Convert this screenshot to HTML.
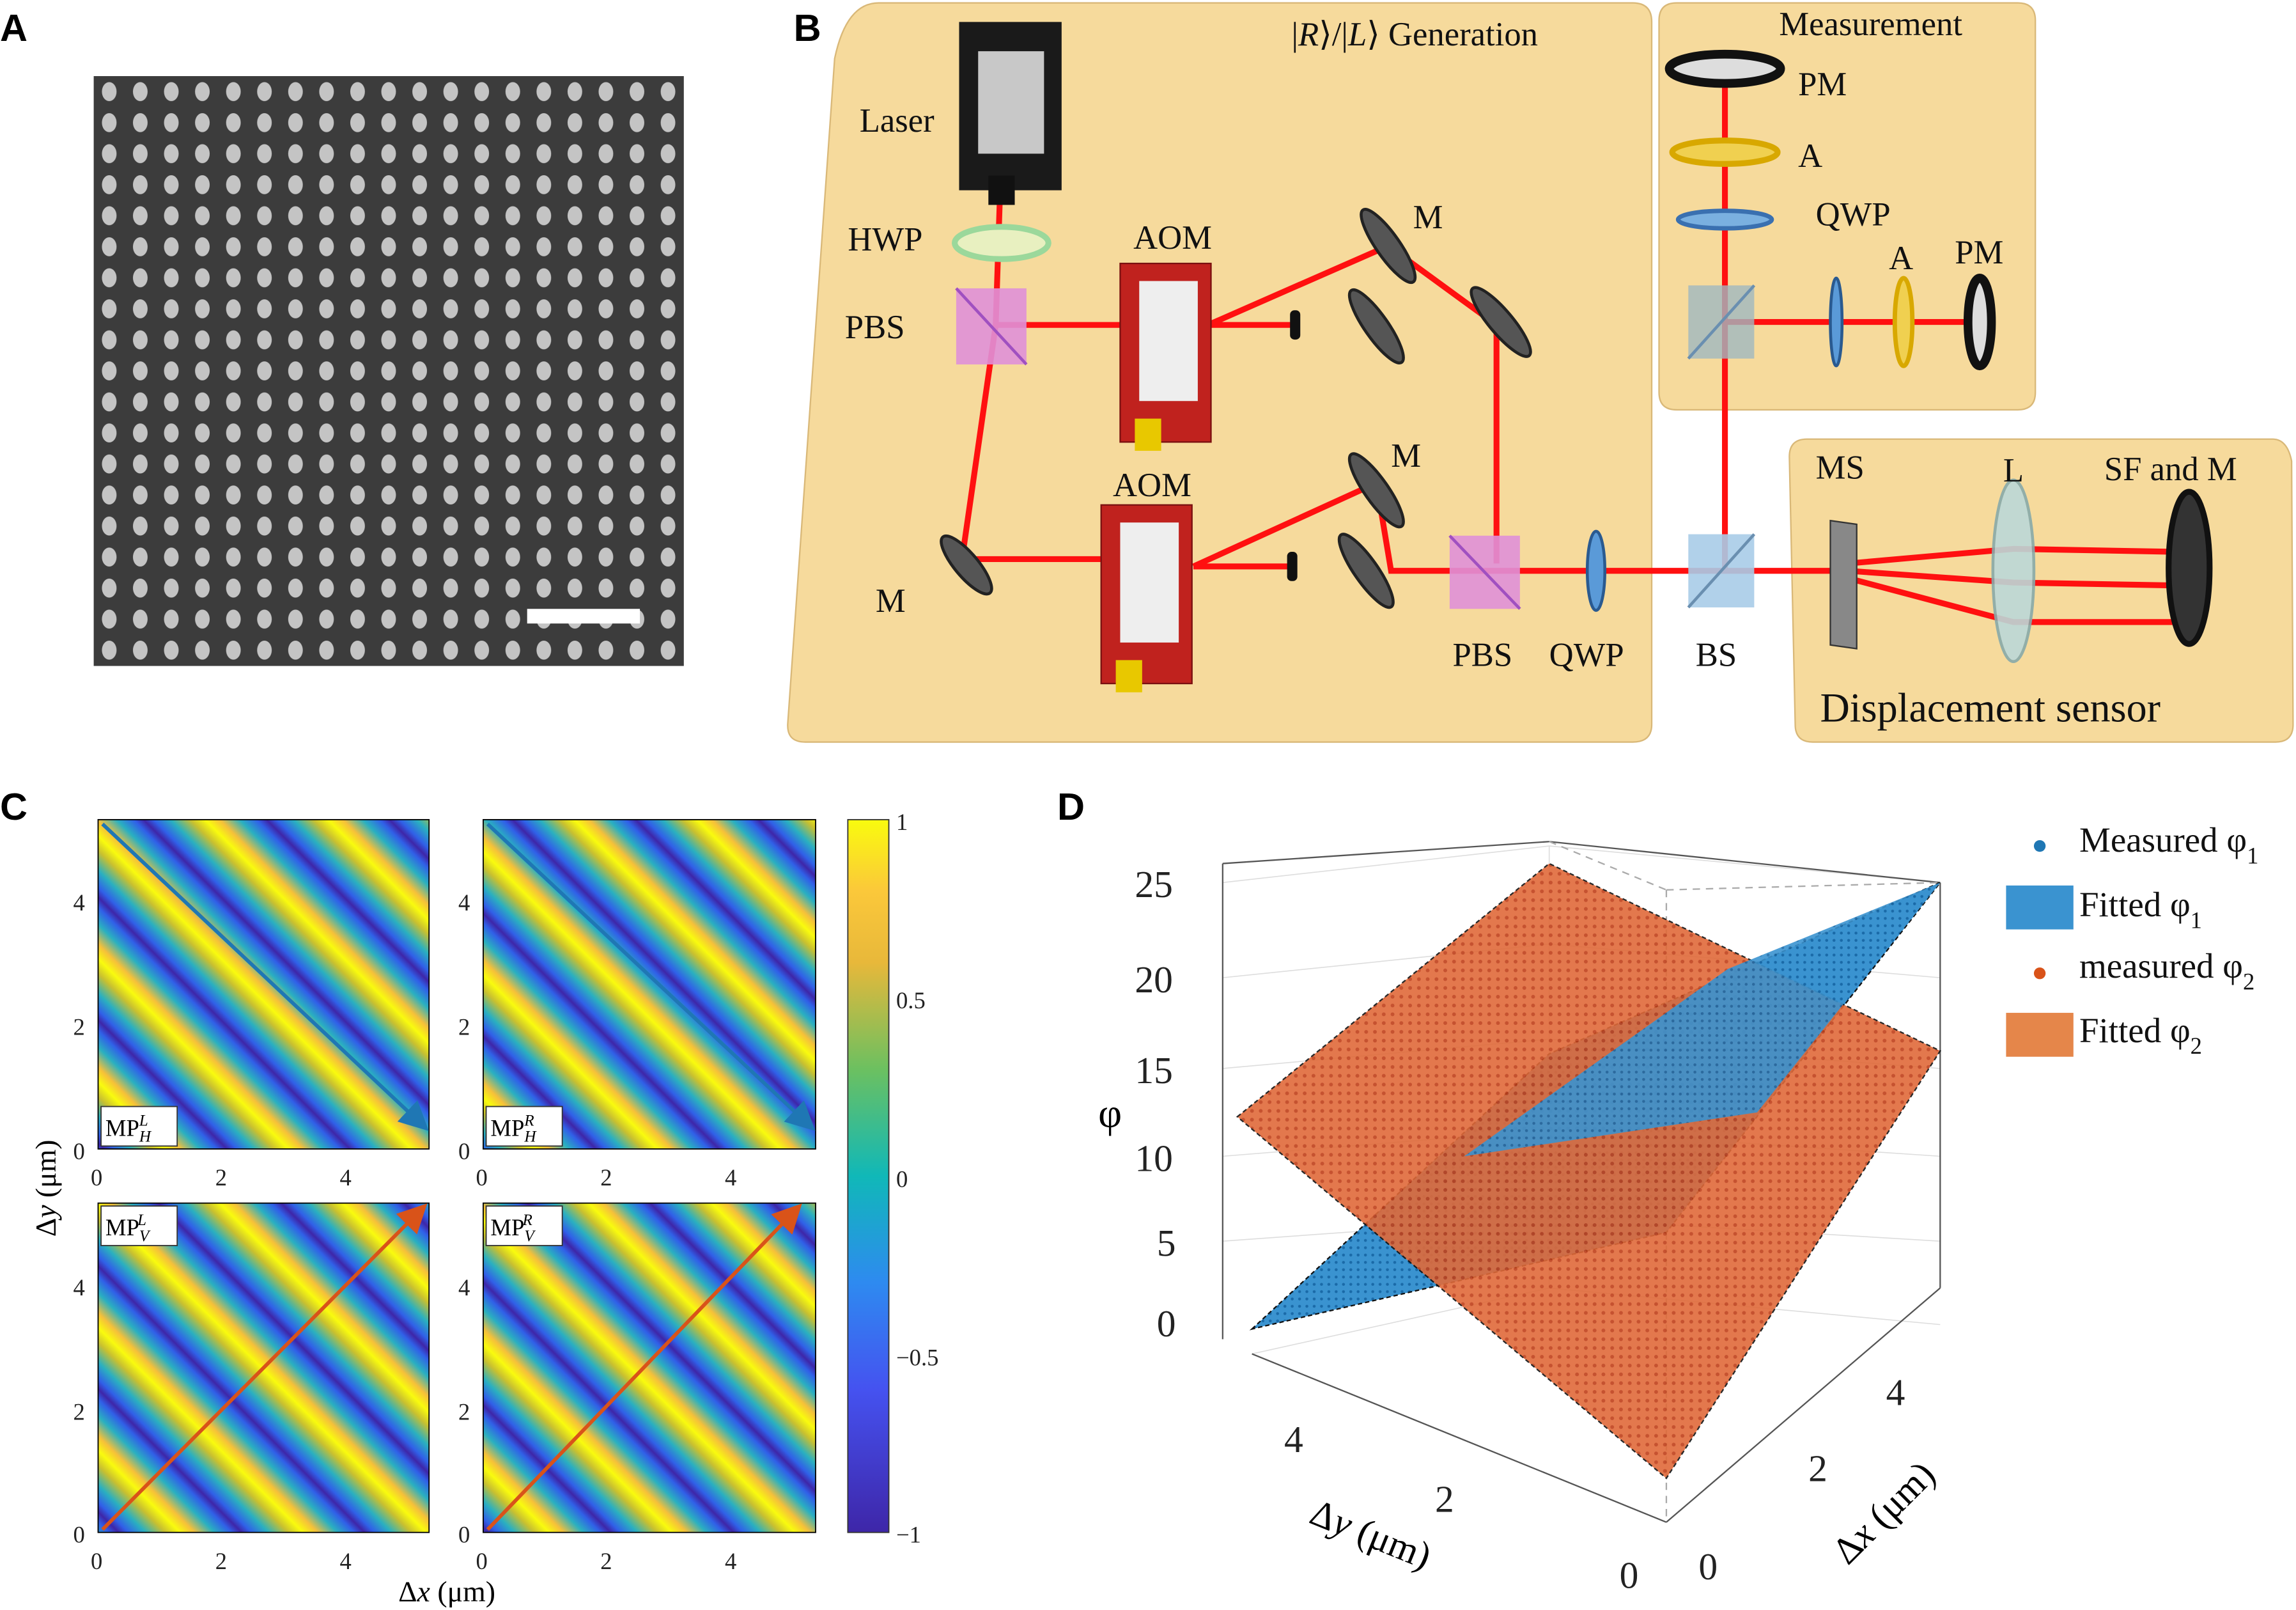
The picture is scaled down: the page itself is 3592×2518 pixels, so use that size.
<!DOCTYPE html>
<html><head><meta charset="utf-8"><style>
html,body{margin:0;padding:0;background:#fff;}
svg{display:block;}
text{font-family:"Liberation Serif",serif;}
.s{font-family:"Liberation Sans",sans-serif;}
</style></head><body>
<svg width="3592" height="2518" viewBox="0 0 1568 1100" preserveAspectRatio="none" xmlns="http://www.w3.org/2000/svg">
<defs>
<pattern id="dots" x="64" y="52" width="21.2" height="21.2" patternUnits="userSpaceOnUse">
<ellipse cx="10.6" cy="10.6" rx="5" ry="6.5" fill="#c4c4c4"/>
</pattern>
<linearGradient id="parTop" gradientUnits="userSpaceOnUse" x1="0" y1="0" x2="42" y2="-42" spreadMethod="repeat">
<stop offset="0" stop-color="#f9fb0e"/><stop offset="0.12" stop-color="#f5c03a"/><stop offset="0.28" stop-color="#2ab0c0"/><stop offset="0.42" stop-color="#3060e8"/><stop offset="0.5" stop-color="#3e26a8"/><stop offset="0.58" stop-color="#3060e8"/><stop offset="0.72" stop-color="#2ab0c0"/><stop offset="0.88" stop-color="#c8c030"/><stop offset="1" stop-color="#f9fb0e"/>
</linearGradient>
<linearGradient id="cbar" x1="0" y1="1" x2="0" y2="0">
<stop offset="0" stop-color="#3e26a8"/><stop offset="0.2" stop-color="#4552f0"/><stop offset="0.35" stop-color="#2e8af0"/><stop offset="0.5" stop-color="#10b8b8"/><stop offset="0.65" stop-color="#6cc060"/><stop offset="0.8" stop-color="#e8b83a"/><stop offset="0.9" stop-color="#fbc83a"/><stop offset="1" stop-color="#f9fb0e"/>
</linearGradient>
<pattern id="odots" width="6" height="6" patternUnits="userSpaceOnUse"><rect width="6" height="6" fill="#e06a3a"/><circle cx="3" cy="3" r="1.3" fill="#c0401a"/></pattern>
<pattern id="bdots" width="5" height="5" patternUnits="userSpaceOnUse"><rect width="5" height="5" fill="#3a93d0"/><circle cx="2.5" cy="2.5" r="1" fill="#1a6aa8"/></pattern>
<marker id="ab" markerWidth="8" markerHeight="8" refX="7" refY="4" orient="auto"><path d="M0,0 L8,4 L0,8 z" fill="#1f77b4"/></marker>
<marker id="ao" markerWidth="8" markerHeight="8" refX="7" refY="4" orient="auto"><path d="M0,0 L8,4 L0,8 z" fill="#d95319"/></marker>
</defs>

<!-- Panel A -->
<text x="0" y="28" class="s" font-size="26" font-weight="bold">A</text>
<rect x="64" y="52" width="403" height="403" fill="#3c3c3c"/>
<rect x="64" y="52" width="403" height="403" fill="url(#dots)"/>
<rect x="360" y="416" width="77" height="10" fill="#fff"/>

<!-- Panel B -->
<text x="542" y="28" class="s" font-size="26" font-weight="bold">B</text>
<path d="M600,2 L1115,2 Q1128,2 1128,15 L1128,495 Q1128,507 1115,507 L550,507 Q537,507 538,494 L570,40 Q578,2 600,2 Z" fill="#f6da9c" stroke="#d9b878" stroke-width="1"/>
<path d="M1145,2 L1378,2 Q1390,2 1390,14 L1390,268 Q1390,280 1378,280 L1145,280 Q1133,280 1133,268 L1133,14 Q1133,2 1145,2 Z" fill="#f6da9c" stroke="#d9b878"/>
<path d="M1234,300 L1552,300 Q1562,300 1565,315 L1566,495 Q1566,507 1554,507 L1238,507 Q1226,507 1226,495 L1222,312 Q1222,300 1234,300 Z" fill="#f6da9c" stroke="#d9b878"/>

<g stroke="#ff1010" stroke-width="4" fill="none">
<path d="M683,130 L680,222 L657,382 L785,382"/>
<path d="M680,222 L775,222"/>
<path d="M825,222 L885,222"/>
<path d="M825,222 L948,168 L1022,222 L1022,385"/>
<path d="M815,387 L883,387"/>
<path d="M815,387 L940,330 L950,390 L1255,390"/>
<path d="M1178,390 L1178,50"/>
<path d="M1178,220 L1352,220"/>
<path d="M1262,385 L1375,375 L1485,377"/>
<path d="M1262,390 L1375,398 L1485,400"/>
<path d="M1262,395 L1375,425 L1485,425"/>
</g>
<rect x="655" y="15" width="70" height="115" fill="#1a1a1a"/>
<rect x="668" y="35" width="45" height="70" fill="#c8c8c8"/>
<rect x="675" y="120" width="18" height="20" fill="#111"/>
<ellipse cx="684" cy="166" rx="32" ry="11" fill="#e8f0c0" stroke="#9bd89b" stroke-width="4"/>
<rect x="653" y="197" width="48" height="52" fill="#e090d8" opacity="0.9"/>
<line x1="653" y1="197" x2="701" y2="249" stroke="#a050c0" stroke-width="2"/>
<rect x="990" y="366" width="48" height="50" fill="#e090d8" opacity="0.9"/>
<line x1="990" y1="366" x2="1038" y2="416" stroke="#a050c0" stroke-width="2"/>
<rect x="765" y="180" width="62" height="122" fill="#c0221e" stroke="#7a1010"/>
<rect x="778" y="192" width="40" height="82" fill="#eeeeee"/>
<rect x="775" y="286" width="18" height="22" fill="#e8c800"/>
<rect x="752" y="345" width="62" height="122" fill="#c0221e" stroke="#7a1010"/>
<rect x="765" y="357" width="40" height="82" fill="#eeeeee"/>
<rect x="762" y="451" width="18" height="22" fill="#e8c800"/>
<rect x="881" y="212" width="7" height="20" rx="3" fill="#111"/>
<rect x="879" y="377" width="7" height="20" rx="3" fill="#111"/>
<g fill="#555" stroke="#222" stroke-width="2">
<ellipse cx="660" cy="386" rx="8" ry="25" transform="rotate(-40 660 386)"/>
<ellipse cx="948" cy="168" rx="8" ry="30" transform="rotate(-35 948 168)"/>
<ellipse cx="940" cy="223" rx="8" ry="30" transform="rotate(-35 940 223)"/>
<ellipse cx="1025" cy="220" rx="8" ry="30" transform="rotate(-40 1025 220)"/>
<ellipse cx="940" cy="335" rx="8" ry="30" transform="rotate(-35 940 335)"/>
<ellipse cx="933" cy="390" rx="8" ry="30" transform="rotate(-35 933 390)"/>
</g>
<ellipse cx="1090" cy="390" rx="6" ry="27" fill="#5a9ad8" stroke="#2a5a90" stroke-width="2"/>
<rect x="1153" y="365" width="45" height="50" fill="#a8cce8" opacity="0.9"/>
<line x1="1153" y1="415" x2="1198" y2="365" stroke="#6a8fb0" stroke-width="2"/>
<rect x="1153" y="195" width="45" height="50" fill="#a0b8c0" opacity="0.8"/>
<line x1="1153" y1="245" x2="1198" y2="195" stroke="#6a8fb0" stroke-width="2"/>
<ellipse cx="1178" cy="47" rx="38" ry="10" fill="#ddd" stroke="#111" stroke-width="6"/>
<ellipse cx="1178" cy="104" rx="36" ry="8" fill="#f0d050" stroke="#d8a800" stroke-width="4"/>
<ellipse cx="1178" cy="150" rx="32" ry="6" fill="#7ab0e0" stroke="#3a70b0" stroke-width="3"/>
<ellipse cx="1254" cy="220" rx="4" ry="30" fill="#5a9ad8" stroke="#2a5a90" stroke-width="2"/>
<ellipse cx="1300" cy="220" rx="6" ry="30" fill="#f0d050" stroke="#d8a800" stroke-width="3"/>
<ellipse cx="1352" cy="220" rx="8" ry="30" fill="#ddd" stroke="#111" stroke-width="6"/>
<rect x="1250" y="355" width="18" height="85" fill="#888" stroke="#333" transform="skewY(8) translate(0,-175)"/>
<ellipse cx="1375" cy="390" rx="14" ry="62" fill="#bcd8d8" stroke="#8aa" stroke-width="2" opacity="0.9"/>
<ellipse cx="1495" cy="388" rx="14" ry="52" fill="#333" stroke="#111" stroke-width="4"/>
<g font-size="23" fill="#111">
<text x="587" y="90">Laser</text>
<text x="579" y="171">HWP</text>
<text x="577" y="231">PBS</text>
<text x="774" y="170">AOM</text>
<text x="760" y="339">AOM</text>
<text x="965" y="156">M</text>
<text x="950" y="319">M</text>
<text x="598" y="418">M</text>
<text x="992" y="455">PBS</text>
<text x="1058" y="455">QWP</text>
<text x="1158" y="455">BS</text>
<text x="882" y="31">|<tspan font-style="italic">R</tspan>⟩/|<tspan font-style="italic">L</tspan>⟩ Generation</text>
<text x="1215" y="24">Measurement</text>
<text x="1228" y="65">PM</text>
<text x="1228" y="114">A</text>
<text x="1240" y="154">QWP</text>
<text x="1290" y="184">A</text>
<text x="1335" y="180">PM</text>
<text x="1240" y="327">MS</text>
<text x="1368" y="329">L</text>
<text x="1437" y="328">SF and M</text>
<text x="1243" y="493" font-size="28">Displacement sensor</text>
</g>

<!-- Panel C -->
<text x="0" y="560" class="s" font-size="26" font-weight="bold">C</text>
<g>
<rect x="67" y="560" width="226" height="225" fill="url(#parTop)"/>
<rect x="330" y="560" width="227" height="225" fill="url(#parTop)"/>
<rect x="67" y="822" width="226" height="225" fill="url(#parTop)"/>
<rect x="330" y="822" width="227" height="225" fill="url(#parTop)"/>
<g fill="none" stroke="#000" stroke-width="0.8">
<rect x="67" y="560" width="226" height="225"/><rect x="330" y="560" width="227" height="225"/>
<rect x="67" y="822" width="226" height="225"/><rect x="330" y="822" width="227" height="225"/>
</g>
<line x1="70" y1="563" x2="291" y2="771" stroke="#1f77b4" stroke-width="2.5" marker-end="url(#ab)"/>
<line x1="333" y1="563" x2="555" y2="771" stroke="#1f77b4" stroke-width="2.5" marker-end="url(#ab)"/>
<line x1="70" y1="1045" x2="290" y2="824" stroke="#d95319" stroke-width="2.5" marker-end="url(#ao)"/>
<line x1="333" y1="1045" x2="546" y2="824" stroke="#d95319" stroke-width="2.5" marker-end="url(#ao)"/>
<g font-size="16">
<rect x="69" y="756" width="52" height="27" fill="#fff" stroke="#333" stroke-width="0.8"/><text x="72" y="776">MP<tspan font-style="italic" font-size="11" dy="4">H</tspan><tspan font-style="italic" font-size="11" dx="-8" dy="-11">L</tspan></text>
<rect x="332" y="756" width="52" height="27" fill="#fff" stroke="#333" stroke-width="0.8"/><text x="335" y="776">MP<tspan font-style="italic" font-size="11" dy="4">H</tspan><tspan font-style="italic" font-size="11" dx="-8" dy="-11">R</tspan></text>
<rect x="69" y="824" width="52" height="27" fill="#fff" stroke="#333" stroke-width="0.8"/><text x="72" y="844">MP<tspan font-style="italic" font-size="11" dy="4">V</tspan><tspan font-style="italic" font-size="11" dx="-8" dy="-11">L</tspan></text>
<rect x="332" y="824" width="52" height="27" fill="#fff" stroke="#333" stroke-width="0.8"/><text x="335" y="844">MP<tspan font-style="italic" font-size="11" dy="4">V</tspan><tspan font-style="italic" font-size="11" dx="-8" dy="-11">R</tspan></text>
</g>
<g font-size="16" fill="#222" font-family="Liberation Sans,sans-serif">
<text x="50" y="622">4</text><text x="50" y="707">2</text><text x="50" y="792">0</text>
<text x="313" y="622">4</text><text x="313" y="707">2</text><text x="313" y="792">0</text>
<text x="50" y="885">4</text><text x="50" y="970">2</text><text x="50" y="1054">0</text>
<text x="313" y="885">4</text><text x="313" y="970">2</text><text x="313" y="1054">0</text>
<text x="62" y="810">0</text><text x="147" y="810">2</text><text x="232" y="810">4</text>
<text x="325" y="810">0</text><text x="410" y="810">2</text><text x="495" y="810">4</text>
<text x="62" y="1072">0</text><text x="147" y="1072">2</text><text x="232" y="1072">4</text>
<text x="325" y="1072">0</text><text x="410" y="1072">2</text><text x="495" y="1072">4</text>
<text x="612" y="567">1</text><text x="612" y="689">0.5</text><text x="612" y="811">0</text><text x="612" y="933">−0.5</text><text x="612" y="1054">−1</text>
</g>
<rect x="579" y="560" width="28" height="487" fill="url(#cbar)" stroke="#333" stroke-width="0.8"/>
<text x="272" y="1094" font-size="20">Δ<tspan font-style="italic">x</tspan> (μm)</text>
<text transform="translate(38,845) rotate(-90)" font-size="20">Δ<tspan font-style="italic">y</tspan> (μm)</text>
</g>

<!-- Panel D -->
<text x="722" y="560" class="s" font-size="26" font-weight="bold">D</text>
<g stroke="#ddd" stroke-width="0.7" fill="none">
<path d="M835,603 L1058,578 L1325,603"/>
<path d="M835,668 L1058,645 L1325,668"/><path d="M835,730 L1058,710 L1325,730"/>
<path d="M835,790 L1058,772 L1325,790"/><path d="M835,848 L1058,832 L1325,848"/>
<path d="M855,925 L1058,880 L1325,905"/>
<line x1="1058" y1="578" x2="1058" y2="880"/>
</g>
<g stroke="#555" stroke-width="1" fill="none">
<line x1="835" y1="590" x2="835" y2="915"/>
<line x1="835" y1="590" x2="1058" y2="575"/>
<line x1="1058" y1="575" x2="1325" y2="603"/>
<line x1="1325" y1="603" x2="1325" y2="880"/>
<line x1="855" y1="925" x2="1138" y2="1040"/>
<line x1="1138" y1="1040" x2="1325" y2="880"/>
</g>
<g stroke="#aaa" stroke-width="1" stroke-dasharray="5,4" fill="none">
<line x1="1138" y1="608" x2="1138" y2="1040"/><line x1="1058" y1="575" x2="1138" y2="608"/><line x1="1138" y1="608" x2="1325" y2="603"/>
</g>
<path d="M855,908 L1058,720 L1325,603 L1138,842 Z" fill="url(#bdots)" stroke="#111" stroke-dasharray="3,2"/>
<path d="M845,763 L1058,590 L1325,718 L1138,1010 Z" fill="url(#odots)" opacity="0.9" stroke="#111" stroke-dasharray="3,2"/>
<path d="M1000,790 L1180,662 L1325,603 L1200,760 Z" fill="url(#bdots)" opacity="0.9"/>
<g font-family="Liberation Sans,sans-serif" font-size="26" fill="#222">
<text x="775" y="613">25</text><text x="775" y="678">20</text><text x="775" y="740">15</text>
<text x="775" y="800">10</text><text x="790" y="858">5</text><text x="790" y="913">0</text>
<text x="877" y="992">4</text><text x="980" y="1033">2</text><text x="1106" y="1085">0</text>
<text x="1160" y="1079">0</text><text x="1235" y="1012">2</text><text x="1288" y="960">4</text>
</g>
<text x="750" y="770" font-size="28">φ</text>
<text transform="translate(893,1040) rotate(22)" font-size="26">Δ<tspan font-style="italic">y</tspan> (μm)</text>
<text transform="translate(1262,1070) rotate(-45)" font-size="26">Δ<tspan font-style="italic">x</tspan> (μm)</text>
<circle cx="1393" cy="578" r="4" fill="#1f77b4"/>
<rect x="1370" y="605" width="46" height="30" fill="#3a93d0"/>
<circle cx="1393" cy="665" r="4" fill="#d95319"/>
<rect x="1370" y="692" width="46" height="30" fill="#e5864a"/>
<g font-size="24" fill="#111">
<text x="1420" y="582">Measured φ<tspan font-size="16" dy="8">1</tspan></text>
<text x="1420" y="626">Fitted φ<tspan font-size="16" dy="8">1</tspan></text>
<text x="1420" y="668">measured φ<tspan font-size="16" dy="8">2</tspan></text>
<text x="1420" y="712">Fitted φ<tspan font-size="16" dy="8">2</tspan></text>
</g>
</svg>
</body></html>
